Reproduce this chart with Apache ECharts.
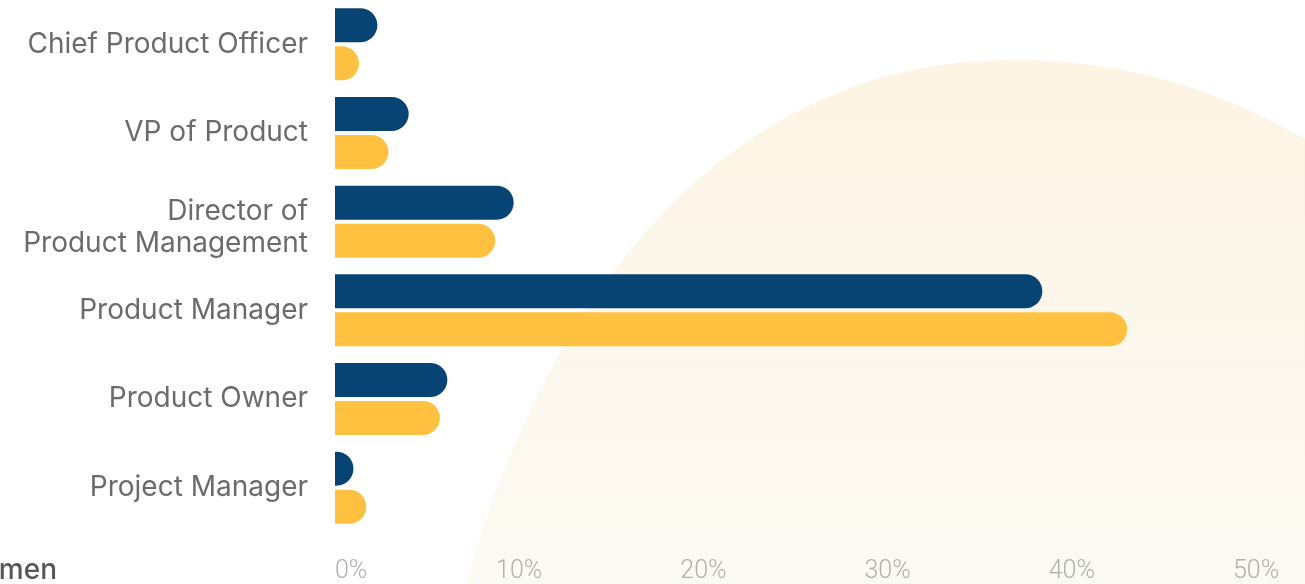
<!DOCTYPE html>
<html>
<head>
<meta charset="utf-8">
<script src="https://cdn.jsdelivr.net/npm/echarts@6/dist/echarts.min.js"></script>
<style>
  html, body { margin: 0; padding: 0; background: #ffffff; }
  #chart { width: 1305px; height: 584px; }
</style>
</head>
<body>
<div id="chart"></div>
<script>
// Job titles, top to bottom
const roles = [
  'Chief Product Officer',
  'VP of Product',
  'Director of\nProduct Management',
  'Product Manager',
  'Product Owner',
  'Project Manager'
];
// Share of respondents (%) per role
const men   = [2.3, 4.0, 9.7, 38.4, 6.1, 1.0];
const women = [1.3, 2.9, 8.7, 43.0, 5.7, 1.7];
const xTicks = [0, 10, 20, 30, 40, 50];

const chart = echarts.init(document.getElementById('chart'), null, { renderer: 'canvas' });

const font = 'Inter, "Open Sans", sans-serif';
const labelColor = '#6b6b6e';
const labelSize = 28;

// Decorative hill behind the plot
function cubic(p0, p1, p2, p3, steps) {
  const pts = [];
  for (let i = 0; i <= steps; i++) {
    const t = i / steps, u = 1 - t;
    pts.push([
      u * u * u * p0[0] + 3 * u * u * t * p1[0] + 3 * u * t * t * p2[0] + t * t * t * p3[0],
      u * u * u * p0[1] + 3 * u * u * t * p1[1] + 3 * u * t * t * p2[1] + t * t * t * p3[1]
    ]);
  }
  return pts;
}
const hill = []
  .concat(cubic([466, 584], [560, 250], [760, 60], [1010, 60], 60))
  .concat(cubic([1010, 60], [1130, 60], [1230, 90], [1340, 160], 40))
  .concat([[1340, 590], [466, 590]]);

// Two-line titles sit a little lower than their bar pair
const labelRich = {
  first: { fontFamily: font, fontSize: labelSize, color: labelColor, lineHeight: 44 },
  second: { fontFamily: font, fontSize: labelSize, color: labelColor, lineHeight: 20 }
};

chart.setOption({
  backgroundColor: '#ffffff',
  animation: false,
  graphic: [
    {
      type: 'polygon',
      z: -10,
      silent: true,
      shape: { points: hill },
      style: {
        fill: new echarts.graphic.LinearGradient(0, 0, 0, 1, [
          { offset: 0, color: '#fdf4e3' },
          { offset: 1, color: '#fcfaf4' }
        ])
      }
    },
    {
      type: 'text',
      x: 57,
      y: 571,
      style: {
        text: 'Women',
        font: '500 28px ' + font,
        fill: '#58585c',
        align: 'right',
        verticalAlign: 'middle'
      }
    }
  ],
  grid: { left: 335, right: 49, top: -1, bottom: 52, containLabel: false },
  xAxis: {
    type: 'value',
    min: xTicks[0],
    max: xTicks[xTicks.length - 1],
    interval: 10,
    axisLine: { show: false },
    axisTick: { show: false },
    splitLine: { show: false },
    axisLabel: {
      formatter: '{value}%',
      color: '#b0b0b0',
      fontFamily: 'Roboto, sans-serif',
      fontWeight: 300,
      fontSize: 25,
      margin: 27,
      alignMinLabel: 'left'
    }
  },
  yAxis: {
    type: 'category',
    inverse: true,
    data: roles,
    axisLine: { show: false },
    axisTick: { show: false },
    axisLabel: {
      color: labelColor,
      fontFamily: font,
      fontSize: labelSize,
      lineHeight: 32,
      margin: 27,
      align: 'right',
      rich: labelRich,
      formatter: function (v) {
        const parts = v.split('\n');
        if (parts.length < 2) return v;
        return '{first|' + parts[0] + '}\n{second|' + parts[1] + '}';
      }
    }
  },
  series: [
    {
      name: 'Men',
      type: 'bar',
      data: men,
      barWidth: 34,
      barGap: '12%',
      itemStyle: { color: '#084473', borderRadius: [0, 17, 17, 0] }
    },
    {
      name: 'Women',
      type: 'bar',
      data: women,
      barWidth: 34,
      itemStyle: { color: '#ffc13f', borderRadius: [0, 17, 17, 0] }
    }
  ]
});
</script>
</body>
</html>
